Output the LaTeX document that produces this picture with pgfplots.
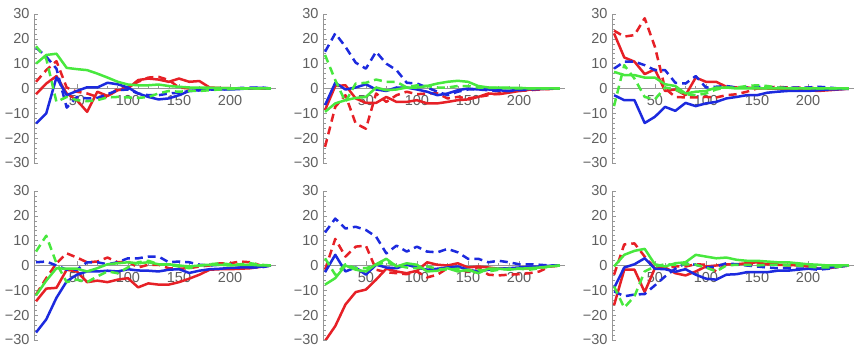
\documentclass[border=0pt]{standalone}
\usepackage{pgfplots}
\usepackage{pgfplotstable}
\pgfplotsset{compat=1.18}
\usepackage{fontspec}
\setmainfont{Liberation Sans}
\definecolor{mred}{RGB}{230,32,38}
\definecolor{mblue}{RGB}{28,42,222}
\definecolor{mgreen}{RGB}{72,232,62}
\definecolor{labgray}{RGB}{95,95,95}
\definecolor{axgray}{RGB}{150,150,150}

\pgfplotstableread{
x rs rd bs bd gs gd
10 -2.3 2.7 -14.1 16.5 10 17
20 2 7.4 -10 12.8 13.5 12
30 5 11 4.5 8 14 -5.4
40 -2 0.4 -2.7 -7.7 8.3 -3.4
50 -4.7 -1.3 -1 -3.4 7.8 -4.7
60 -9.4 -2 0.5 -4 7.4 -5.1
70 -1.3 -3.4 0.4 -3.8 6 -4.7
80 -3 -3.4 2.3 -2.3 4.4 -3.6
90 -0.7 0 1.7 -0.7 2.7 -3.4
100 0 0.4 0.4 -0.4 1.6 -3.6
110 3.4 2.7 -2 -2 1.3 -3.8
120 4 4.4 -3.4 -2.7 1.3 -3.4
130 3.6 4.7 -4.4 -2.7 1.6 -2
140 2.7 3.4 -4 -2 1 -1
150 4 0.4 -2.7 -1.7 0.7 -1.3
160 2.7 0 -1 -1 0.4 -1
170 3 0 -0.7 -0.7 0.4 -1
180 0.4 0 -0.4 -0.5 0.3 -0.7
190 0.2 0 -0.4 -0.4 0.2 -0.4
200 0.1 0 -0.4 -0.2 0.1 -0.2
210 0 0 -0.2 0.2 0 -0.1
220 0 0 0.1 0.4 0 0
230 0 0 0.3 0.4 0 0
240 0 0 0 0 0 0
}\tA
\pgfplotstableread{
x rs rd bs bd gs gd
10 -8.7 -23.5 -6.7 14.8 -9.4 13.5
20 1 -7.4 2.3 22.2 -6 3.4
30 1.3 -2.7 -0.4 16.8 -4.7 -5.4
40 -4 -14.1 0.4 10.4 -3.8 2
50 -5.8 -16.2 1.7 8 -3.4 2.3
60 -5.8 -2 -0.4 14.8 0.4 3.6
70 -3.4 -5.4 -1 10 -0.7 2.7
80 -5.4 -2.7 0.4 7.4 -0.4 2.7
90 -5.4 -1.3 0.4 2.3 0.4 0.4
100 -4.7 -2.3 -0.4 2 0.4 1.3
110 -6 -2 -1.3 0.4 1 1
120 -6 -2 -2.7 -1.3 2 0.4
130 -5.4 -4 -2 -2.7 2.7 0.4
140 -4.7 -3.4 -0.7 -1.3 3.1 1
150 -4.4 -4 0 -0.4 2.7 1
160 -3.4 -3.4 -0.4 -0.4 1 0.4
170 -2 -2.7 -0.4 -0.7 0.4 0.3
180 -2.3 -2 -0.7 -1 0.4 0.2
190 -1.7 -1.3 -1 -1 0.3 0.1
200 -1 -1 -0.4 -0.7 0.3 0
210 -0.5 -0.7 -0.2 -0.4 0 0
220 -0.3 -0.4 -0.2 -0.2 0 0
230 -0.1 -0.2 0 0 0 0
240 0 0 0 0 0 0
}\tB
\pgfplotstableread{
x rs rd bs bd gs gd
10 22.2 23.3 -2.7 8 6.7 -7.1
20 12.5 20.9 -4.7 10.8 5.4 9.4
30 10.8 21.5 -4.7 10.8 5.4 4
40 5.8 28.3 -13.9 9.4 4.4 -3.4
50 7.7 16.8 -11.4 7.4 4.4 -4.4
60 -1 0 -7.4 7.4 1.7 0.4
70 -0.4 -3.4 -9 2.3 1 -0.4
80 -2.7 -3.6 -5.8 2 -2 -2.3
90 4.4 -3.6 -7.1 5 -1.3 -2.7
100 2.7 -3.4 -6 0.4 -1 -2
110 2.7 -3.6 -5.4 0.7 0.4 -0.4
120 0.7 -2.7 -4 1 0.4 0.4
130 0.4 -2.3 -3.4 0.4 0 0.4
140 0.4 -1.3 -2.7 0.4 0 1
150 0 0 -2.7 0.7 0 1.3
160 0 0.4 -1.7 0.4 0 1
170 -0.1 0.7 -1.3 0.4 0 0.4
180 -0.4 0.4 -1 0.4 0 0.2
190 -0.4 0.4 -1 0.4 0 0
200 -0.7 0.3 -1 0.4 0 0
210 -1 0.2 -0.7 0.7 0 0
220 -0.7 0 -0.4 0.4 0 0
230 -0.4 0 -0.3 0 0 0
240 -0.1 0 -0.1 -0.1 0 0
}\tC
\pgfplotstableread{
x rs rd bs bd gs gd
10 -14.4 -11.7 -27 1.3 -12 5.6
20 -9.3 -5.1 -21.7 1.6 -6.1 12
30 -9 0.9 -13 0 -1.1 0.9
40 -1.7 4.9 -6.4 -1.7 -1.3 -6.7
50 -2.4 3.2 -3.7 -1.7 -1.3 -5.7
60 -6.7 1.3 -2.4 1.3 -2.4 -6.7
70 -6.1 1.6 -2.4 1.3 -1.1 -4.4
80 -6.7 3.2 -2.1 0.5 0.5 -2.4
90 -5.7 1.3 -2.4 1.3 0.9 -3.1
100 -5.1 1.6 -1.5 2.9 1.3 -0.8
110 -8.8 -0.8 -2 2.9 0.9 1.3
120 -7.2 0.3 -2.1 3.6 1.3 1.9
130 -7.7 0.3 -2.4 3.6 0.5 0.5
140 -7.7 -1.1 -1.7 1.3 0.5 0.3
150 -6.7 -1.3 -1.5 1.6 0 -0.4
160 -5.3 -1.1 -3 1.3 -0.4 -1.1
170 -3.7 -0.4 -2.1 0.3 0 0
180 -1.7 0 -1.5 0 0.3 0.5
190 -1.5 0.9 -1.3 0.3 0.3 0.9
200 -1.5 0.9 -1 0.5 0 0.5
210 -1.3 1.6 -0.8 0 0.3 0.5
220 -1.1 1.3 -0.8 -0.8 0.3 0.9
230 -0.5 0 -0.5 -0.8 0 0.3
240 0 0 0 0 0 0
}\tD
\pgfplotstableread{
x rs rd bs bd gs gd
10 -30.4 -1.7 -2.7 13.3 -7.7 2.9
20 -24.4 10.7 4.3 18.9 -5.1 -3.7
30 -15.7 3.6 -2.4 14.9 0 0.5
40 -10.7 7.6 -0.8 15.6 -1.7 -1.1
50 -9.7 8 -3.7 14.3 -2.4 -1.1
60 -5.7 -1.7 0.3 11.6 0.5 0.3
70 -1.3 -2.7 -0.8 4.9 2.7 1.3
80 -2.4 -3.1 -1.1 8 -0.4 0
90 -3.1 -3.5 0.3 5.6 0.9 -0.8
100 -2.1 -2.4 -0.8 7.6 0.3 -1.1
110 1.3 -4.8 -1.7 5.6 -2.4 -0.4
120 0.3 -3.7 -1.3 5.3 -2.1 -1.3
130 0 -1.1 -0.8 6.7 -1.1 -1.7
140 0.9 -1.7 -0.4 5.3 -2.4 -1.3
150 -0.8 -2.4 -1.7 2.7 -1.7 -2.1
160 -0.4 -0.8 -2.4 2.7 -3.1 -1.7
170 -0.8 -3.7 -1.7 1.3 -1.3 -2.4
180 -1.3 -4 -1.3 1.9 -1.3 -1.7
190 -1.1 -3.7 -1.1 1.3 -1.7 -1.3
200 -1.3 -3.5 -0.8 0.5 -1.3 -1.3
210 -1.1 -3.1 -0.5 0.5 -1.1 -1.7
220 -0.8 -2.4 -0.4 0.3 -0.8 -1.1
230 -0.4 -0.4 -0.1 0 -0.4 -0.4
240 0 0 0 0 0 0
}\tE
\pgfplotstableread{
x rs rd bs bd gs gd
10 -16 -3.7 -9.1 -10.4 -0.4 -8.4
20 -1.7 8.5 -0.8 -12.4 4.3 -17
30 -1.7 8.9 0.5 -11.7 5.9 -12.4
40 -10.7 3.6 2.9 -11.5 6.7 -2.4
50 -1.1 -1.1 -1.3 -8 0.5 -0.4
60 -0.8 -1.1 -1.5 -4.4 -0.4 0.5
70 -3.1 -0.4 -2.5 -1.3 0.9 0.3
80 -4 -0.4 -1.5 0.9 1.3 0.5
90 -2.4 0.5 -3.7 0.3 4.3 0.3
100 -0.4 0.3 -5.3 -0.8 3.6 -0.8
110 0 -2.4 -5.7 -0.4 2.9 -2.4
120 0.5 0.5 -3.7 0.9 3.2 0
130 0.5 0.5 -3.5 0.5 2.3 0.3
140 0.9 0.3 -2.7 0 1.9 0.3
150 1.3 0.9 -2.7 -0.4 1.9 0
160 0.5 0.3 -2.7 -0.8 1.6 0.3
170 0.3 0.5 -2.1 -1.1 1.3 0.3
180 0.3 0 -2.1 -1.1 1.3 0
190 0 0 -1.7 -1.3 0.9 0
200 -0.4 -0.4 -1.3 -1.3 0.5 -0.4
210 -1.3 -1.1 -1.3 -1.7 0.3 -0.8
220 -1.1 -0.8 -0.8 -1.3 0 -0.8
230 -0.5 -0.5 -0.5 -0.5 0 -0.5
240 0 0 0 0 0 0
}\tF

\pgfplotsset{
  panel/.style={
    scale only axis, width=242pt, height=149pt,
    xmin=8, xmax=245, ymin=-30, ymax=30,
    axis x line*=middle, axis y line*=left,
    axis line style={draw=axgray, line width=0.6pt},
    xtick={50,100,150,200}, xticklabels={50,100,150,200},
    ytick={-30,-20,-10,0,10,20,30},
    yticklabels={−30,−20,−10,0,10,20,30},
    minor x tick num=4, minor y tick num=4,
    tick align=inside,
    major tick length=4pt, minor tick length=2.5pt,
    every tick/.style={draw=axgray, line width=0.5pt},
    tick label style={font=\fontsize{14.5}{14.5}\selectfont, text=labgray},
    xticklabel style={yshift=-3.5pt},
    yticklabel style={xshift=-1pt},
    every axis plot/.append style={line width=2.5pt, line join=round, no marks},
  },
  rs/.style={mred},
  rd/.style={mred, dash pattern=on 8pt off 5pt},
  bs/.style={mblue},
  bd/.style={mblue, dash pattern=on 8pt off 5pt},
  gs/.style={mgreen},
  gd/.style={mgreen, dash pattern=on 8pt off 5pt},
}

\newcommand{\sixplots}[1]{%
  \addplot[rs] table[x=x,y=rs]{#1};
  \addplot[rd] table[x=x,y=rd]{#1};
  \addplot[bs] table[x=x,y=bs]{#1};
  \addplot[bd] table[x=x,y=bd]{#1};
  \addplot[gs] table[x=x,y=gs]{#1};
  \addplot[gd] table[x=x,y=gd]{#1};
}

\begin{document}
\begin{tikzpicture}
\useasboundingbox (0,0) rectangle (860pt,358pt);
\begin{axis}[panel, at={(34pt,195pt)}, anchor=south west]
\sixplots{\tA}
\end{axis}
\begin{axis}[panel, at={(323pt,195pt)}, anchor=south west]
\sixplots{\tB}
\end{axis}
\begin{axis}[panel, at={(612pt,195pt)}, anchor=south west]
\sixplots{\tC}
\end{axis}
\begin{axis}[panel, at={(34pt,18pt)}, anchor=south west]
\sixplots{\tD}
\end{axis}
\begin{axis}[panel, at={(323pt,18pt)}, anchor=south west]
\sixplots{\tE}
\end{axis}
\begin{axis}[panel, at={(612pt,18pt)}, anchor=south west]
\sixplots{\tF}
\end{axis}
\end{tikzpicture}
\end{document}
